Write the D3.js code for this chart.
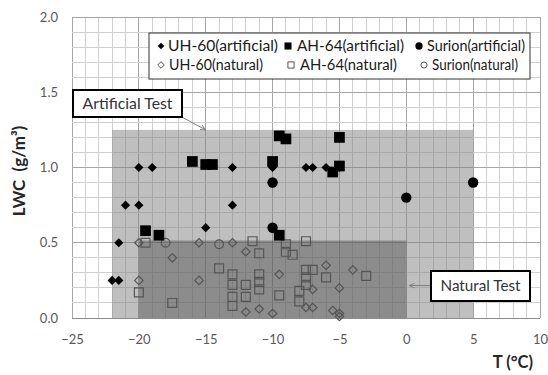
<!DOCTYPE html>
<html><head><meta charset="utf-8">
<script src="https://cdn.jsdelivr.net/npm/d3@7"></script>
<style>body{margin:0;background:#fff}svg{display:block}text{font-family:Lato,"Open Sans",sans-serif}</style>
</head><body>
<svg id="c" width="548" height="375"></svg>
<script>
// ---- data ----
const xTicks = [-25,-20,-15,-10,-5,0,5,10];
const yTicks = [0,0.5,1.0,1.5,2.0];
const seriesNames = ["UH-60(artificial)","AH-64(artificial)","Surion(artificial)","UH-60(natural)","AH-64(natural)","Surion(natural)"];
const uh60Art = [[-22,0.25],[-21.5,0.25],[-21.5,0.5],[-21,0.75],[-20,0.75],[-20,1.0],[-19,1.0],[-15,0.6],[-13,1.0],[-13,0.75],[-10,1.0],[-7.5,1.0],[-7,1.0],[-6,1.0],[-5,1.0]];
const ah64Art = [[-19.5,0.58],[-18.5,0.55],[-16,1.04],[-15,1.02],[-14.5,1.02],[-10,1.04],[-9.5,1.21],[-9,1.19],[-9.5,0.55],[-5.5,0.97],[-5,1.01],[-5,1.2]];
const surionArt = [[-10,0.9],[-10,0.6],[0,0.8],[5,0.9]];
const uh60Nat = [[-20,0.5],[-20,0.25],[-17.5,0.4],[-15.5,0.5],[-15.5,0.25],[-13,0.5],[-12,0.44],[-12,0.04],[-11,0.06],[-10,0.03],[-9.5,0.29],[-7,0.19],[-7.5,0.07],[-7,0.07],[-6,0.35],[-5,0.2],[-5.5,0.05],[-5,0.03],[-5,0.01],[-4,0.32]];
const ah64Nat = [[-20,0.17],[-19.5,0.5],[-17.5,0.1],[-14,0.33],[-13,0.29],[-13,0.22],[-13,0.14],[-13,0.08],[-12,0.22],[-12,0.14],[-11.5,0.51],[-11,0.43],[-11,0.29],[-11,0.24],[-11,0.19],[-9.5,0.15],[-9,0.49],[-9,0.44],[-8.5,0.42],[-8,0.18],[-8,0.11],[-7.5,0.51],[-7.5,0.32],[-7.5,0.27],[-7.5,0.22],[-7,0.32],[-6,0.27],[-3,0.28]];
const surionNat = [[-18,0.5],[-14,0.49]];
const artificialZone = {x0:-22, x1:5, y0:0, y1:1.25};
const naturalZone = {x0:-20, x1:0, y0:0, y1:0.515};

// ---- layout ----
const svg = d3.select("#c");
const x = d3.scaleLinear().domain([-25,10]).range([72,540]);
const y = d3.scaleLinear().domain([0,2]).range([318,17]);

// grid
const g = svg.append("g");
g.selectAll(".vx").data(d3.range(-25,10.01,1)).join("line")
  .attr("x1",d=>x(d)).attr("x2",d=>x(d)).attr("y1",y(0)).attr("y2",y(2))
  .attr("stroke",d=>d%5===0?"#a6a6a6":"#d0d0d0").attr("stroke-width",1).attr("shape-rendering","crispEdges");
g.selectAll(".hy").data(d3.range(0,20.01,1).map(v=>v/10)).join("line")
  .attr("x1",x(-25)).attr("x2",x(10)).attr("y1",d=>y(d)).attr("y2",d=>y(d))
  .attr("stroke",(d,i)=>i%5===0?"#a6a6a6":"#d0d0d0").attr("stroke-width",1).attr("shape-rendering","crispEdges");

// zones
svg.append("rect").attr("x",x(artificialZone.x0)).attr("y",y(artificialZone.y1))
  .attr("width",x(artificialZone.x1)-x(artificialZone.x0)).attr("height",y(artificialZone.y0)-y(artificialZone.y1))
  .attr("fill","#808080").attr("opacity",0.5);
svg.append("rect").attr("x",x(naturalZone.x0)).attr("y",y(naturalZone.y1))
  .attr("width",x(naturalZone.x1)-x(naturalZone.x0)).attr("height",y(naturalZone.y0)-y(naturalZone.y1))
  .attr("fill","#404040").attr("opacity",0.4);

svg.append("line").attr("x1",x(-25)).attr("x2",x(10)).attr("y1",y(0)).attr("y2",y(0)).attr("stroke","#8c8c8c").attr("shape-rendering","crispEdges");

// axes labels
const xa = svg.append("g").attr("transform",`translate(0,${y(0)})`)
  .call(d3.axisBottom(x).tickValues(xTicks).tickSize(0).tickPadding(17).tickFormat(d3.format("d")));
xa.select(".domain").remove();
xa.selectAll("text").attr("font-size",13).attr("fill","#595959").style("font-family","Lato,sans-serif");
const ya = svg.append("g").attr("transform",`translate(${x(-25)},0)`)
  .call(d3.axisLeft(y).tickValues(yTicks).tickSize(0).tickPadding(14).tickFormat(d3.format(".1f")));
ya.select(".domain").remove();
ya.selectAll("text").attr("font-size",13).attr("fill","#595959").style("font-family","Lato,sans-serif");

// titles
svg.append("text").attr("transform","translate(25,171) rotate(-90)").attr("text-anchor","middle")
  .attr("font-size",17).attr("font-weight","bold").attr("fill","#262626")
  .text("LWC\u00a0\u00a0(g/m³)");
svg.append("text").attr("x",533).attr("y",368).attr("text-anchor","end")
  .attr("font-size",16.5).attr("font-weight","bold").attr("fill","#262626").text("T (°C)");

// marker symbols
const diamondType = {draw(ctx,size){const r=Math.sqrt(size/2);ctx.moveTo(0,-r);ctx.lineTo(r,0);ctx.lineTo(0,r);ctx.lineTo(-r,0);ctx.closePath();}};
const sym = {
  diamond: d3.symbol().type(diamondType),
  square: d3.symbol().type(d3.symbolSquare),
  circle: d3.symbol().type(d3.symbolCircle)
};
function drawSeries(data, type, size, filled){
  svg.append("g").selectAll("path").data(data).join("path")
    .attr("d", sym[type].size(size)())
    .attr("transform", d=>`translate(${x(d[0])},${y(d[1])})`)
    .attr("fill", filled ? "#000" : "none")
    .attr("stroke", filled ? "none" : "#555")
    .attr("stroke-width", 1.2);
}
drawSeries(uh60Nat,"diamond",36,false);
drawSeries(ah64Nat,"square",80,false);
drawSeries(surionNat,"circle",60,false);
drawSeries(uh60Art,"diamond",42,true);
drawSeries(ah64Art,"square",115,true);
drawSeries(surionArt,"circle",85,true);

// legend
const lg = svg.append("g");
lg.append("rect").attr("x",149).attr("y",33).attr("width",381).attr("height",46).attr("fill","#fff").attr("stroke","#333").attr("stroke-width",1);
const legItems = [
  {name:seriesNames[0], type:"diamond", size:22, filled:true, mx:161, tx:168, w:110, ty:46},
  {name:seriesNames[1], type:"square", size:50, filled:true, mx:288, tx:297, w:107, ty:46},
  {name:seriesNames[2], type:"circle", size:42, filled:true, mx:419, tx:427, w:98, ty:46},
  {name:seriesNames[3], type:"diamond", size:22, filled:false, mx:161, tx:169, w:94, ty:65},
  {name:seriesNames[4], type:"square", size:38, filled:false, mx:291, tx:300, w:97, ty:65},
  {name:seriesNames[5], type:"circle", size:30, filled:false, mx:424, tx:432, w:86, ty:65}
];
legItems.forEach(it=>{
  lg.append("path").attr("d",sym[it.type].size(it.size)()).attr("transform",`translate(${it.mx},${it.ty})`)
    .attr("fill",it.filled?"#000":"none").attr("stroke",it.filled?"none":"#555");
  lg.append("text").attr("x",it.tx).attr("y",it.ty+5).attr("font-size",14.5).attr("fill","#1a1a1a")
    .attr("textLength",it.w).attr("lengthAdjust","spacingAndGlyphs").text(it.name);
});

// annotations
svg.append("defs").append("marker").attr("id","ah").attr("viewBox","0 0 10 10").attr("refX",9).attr("refY",5)
  .attr("markerWidth",6).attr("markerHeight",6).attr("orient","auto")
  .append("path").attr("d","M0,1 L9,5 L0,9").attr("fill","none").attr("stroke","#7f7f7f").attr("stroke-width",1.5);
svg.append("line").attr("x1",180).attr("y1",116).attr("x2",x(-15)).attr("y2",y(1.25)).attr("stroke","#7f7f7f").attr("stroke-width",1).attr("marker-end","url(#ah)");
svg.append("rect").attr("x",73).attr("y",90).attr("width",109).attr("height",27).attr("fill","#fff").attr("stroke","#000").attr("stroke-width",2);
svg.append("text").attr("x",127.5).attr("y",109).attr("text-anchor","middle").attr("font-size",15).attr("fill","#333")
  .attr("textLength",90).attr("lengthAdjust","spacingAndGlyphs").text("Artificial Test");

svg.append("line").attr("x1",430).attr("y1",285.5).attr("x2",x(0)+3).attr("y2",285.5).attr("stroke","#7f7f7f").attr("stroke-width",1).attr("marker-end","url(#ah)");
svg.append("rect").attr("x",431).attr("y",271).attr("width",99).attr("height",30).attr("fill","#fff").attr("stroke","#000").attr("stroke-width",2);
svg.append("text").attr("x",480.5).attr("y",291).attr("text-anchor","middle").attr("font-size",15).attr("fill","#333")
  .attr("textLength",80).attr("lengthAdjust","spacingAndGlyphs").text("Natural Test");
</script>
</body></html>
